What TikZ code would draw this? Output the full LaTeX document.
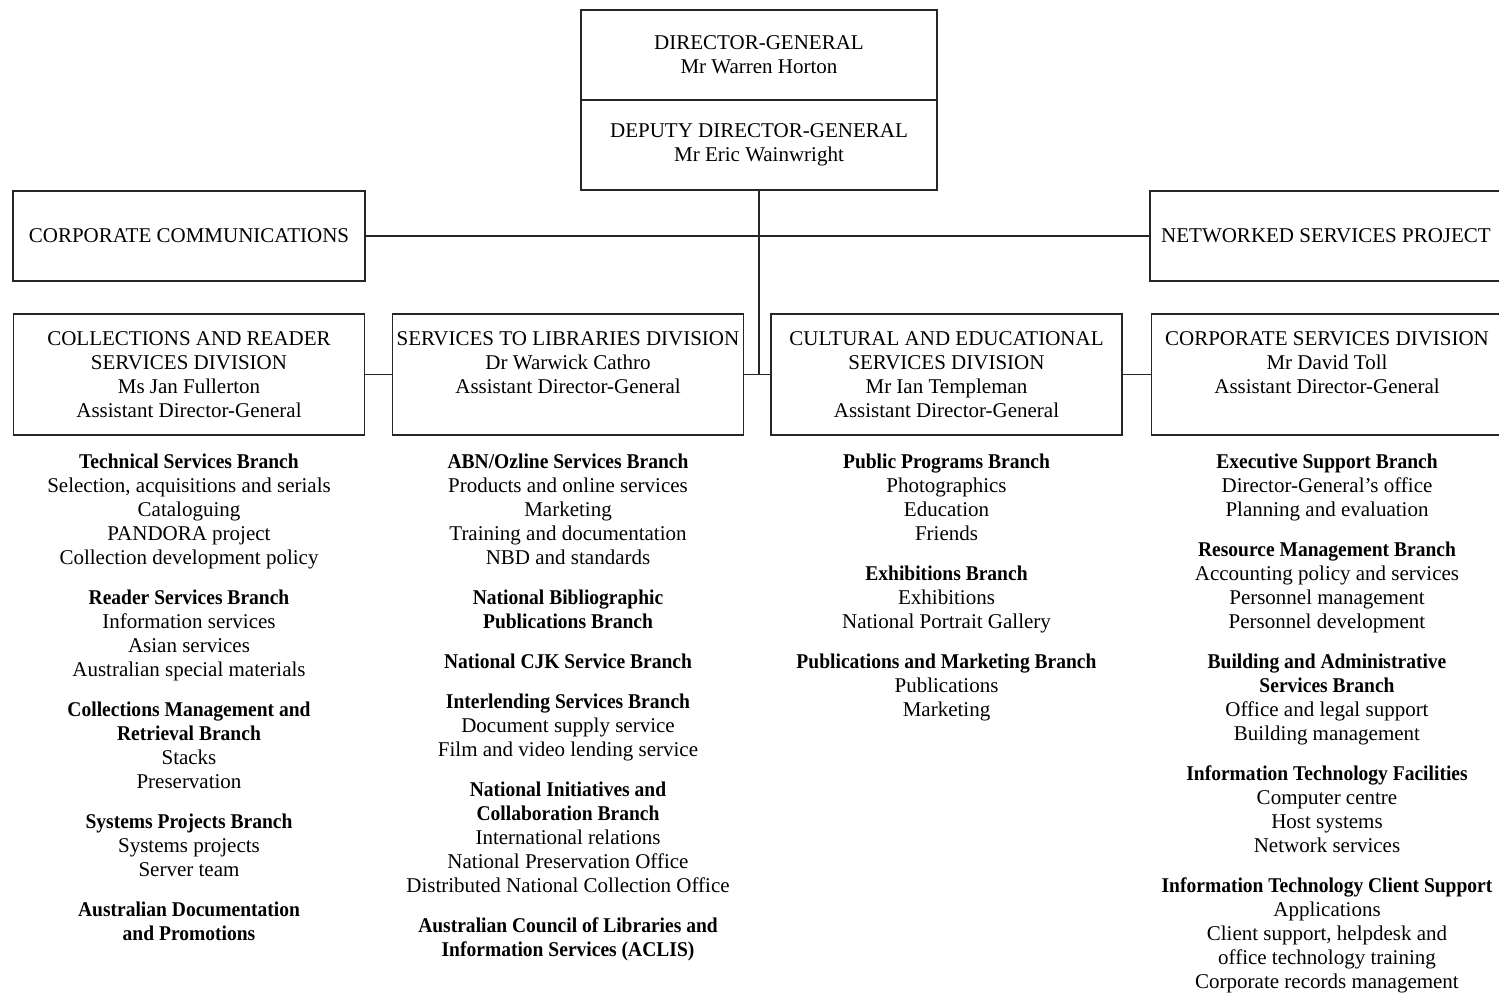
\documentclass[tikz,border=0pt]{standalone}
\usepackage{fontspec}
\setmainfont{Liberation Serif}[BoldFeatures={FakeStretch=0.93}]
\usepackage{tikz}
\usetikzlibrary{positioning}
\newcommand{\chartfont}{\fontsize{10.5}{12}\selectfont}
\tikzset{chartbox/.style={draw=black!85, line width=0.7pt, align=center, inner sep=0pt, outer sep=0pt, font=\chartfont},
	topbox/.style={chartbox, minimum width=178pt, minimum height=45pt},
	sidebox/.style={chartbox, minimum width=176pt, minimum height=45pt},
	divbox/.style={chartbox, minimum width=175.5pt, minimum height=60.5pt},
	branchlist/.style={align=center, inner sep=0pt, font=\chartfont, anchor=north},
	link/.style={black!85, line width=0.6pt}}

\begin{document}
\begin{tikzpicture}[x=0.5pt, y=-0.5pt]
			\useasboundingbox (0,0) rectangle (1499,998);
			\node[topbox] (dg) at (759,55) {DIRECTOR-GENERAL\\Mr Warren Horton};
			\node[topbox, below=0pt of dg] (ddg) {DEPUTY DIRECTOR-GENERAL\\Mr Eric Wainwright};
			\node[sidebox] (comm) at (189,236) {CORPORATE COMMUNICATIONS};
			\node[sidebox] (nsp) at (1326,236) {NETWORKED SERVICES PROJECT};
			% Divisions
			\node[divbox] (coll) at (189,374.5) {COLLECTIONS AND READER\\SERVICES DIVISION\\Ms Jan Fullerton\\Assistant Director-General};
			\node[divbox] (libs) at (568,374.5) {SERVICES TO LIBRARIES DIVISION\\Dr Warwick Cathro\\Assistant Director-General\\~};
			\node[divbox] (cult) at (946.5,374.5) {CULTURAL AND EDUCATIONAL\\SERVICES DIVISION\\Mr Ian Templeman\\Assistant Director-General};
			\node[divbox] (corp) at (1327,374.5) {CORPORATE SERVICES DIVISION\\Mr David Toll\\Assistant Director-General\\~};
			\draw[link] (comm) -- (nsp);
			\draw[link] (coll) -- (libs);
			\draw[link] (libs) -- (cult);
			\draw[link] (cult) -- (corp);
			\draw[link] (ddg) -- (ddg.south |- cult.west);
			% Branches
			\node[branchlist, below=9.5pt of coll] (collbr) {\textbf{Technical Services Branch}\\Selection, acquisitions and serials\\Cataloguing\\PANDORA project\\Collection development policy\\[8pt]
				\textbf{Reader Services Branch}\\Information services\\Asian services\\Australian special materials\\[8pt]
				\textbf{Collections Management and}\\\textbf{Retrieval Branch}\\Stacks\\Preservation\\[8pt]
				\textbf{Systems Projects Branch}\\Systems projects\\Server team\\[8pt]
				\textbf{Australian Documentation}\\\textbf{and Promotions}};
			\node[branchlist, below=9.5pt of libs] (libsbr) {\textbf{ABN/Ozline Services Branch}\\Products and online services\\Marketing\\Training and documentation\\NBD and standards\\[8pt]
				\textbf{National Bibliographic}\\\textbf{Publications Branch}\\[8pt]
				\textbf{National CJK Service Branch}\\[8pt]
				\textbf{Interlending Services Branch}\\Document supply service\\Film and video lending service\\[8pt]
				\textbf{National Initiatives and}\\\textbf{Collaboration Branch}\\International relations\\National Preservation Office\\Distributed National Collection Office\\[8pt]
				\textbf{Australian Council of Libraries and}\\\textbf{Information Services (ACLIS)}};
			\node[branchlist, below=9.5pt of cult] (cultbr) {\textbf{Public Programs Branch}\\Photographics\\Education\\Friends\\[8pt]
				\textbf{Exhibitions Branch}\\Exhibitions\\National Portrait Gallery\\[8pt]
				\textbf{Publications and Marketing Branch}\\Publications\\Marketing};
			\node[branchlist, below=9.5pt of corp] (corpbr) {\textbf{Executive Support Branch}\\Director-General’s office\\Planning and evaluation\\[8pt]
				\textbf{Resource Management Branch}\\Accounting policy and services\\Personnel management\\Personnel development\\[8pt]
				\textbf{Building and Administrative}\\\textbf{Services Branch}\\Office and legal support\\Building management\\[8pt]
				\textbf{Information Technology Facilities}\\Computer centre\\Host systems\\Network services\\[8pt]
				\textbf{Information Technology Client Support}\\Applications\\Client support, helpdesk and\\office technology training\\Corporate records management};
		\end{tikzpicture}
\end{document}
